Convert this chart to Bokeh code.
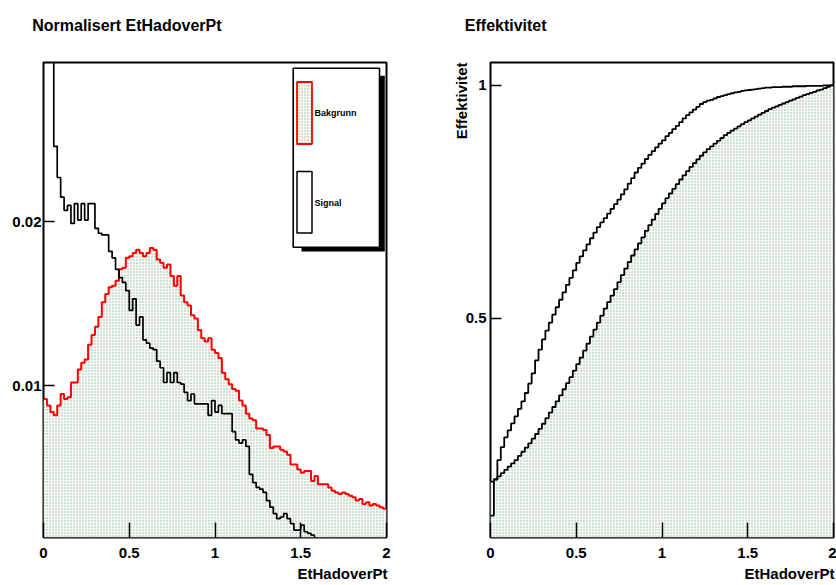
import numpy as np
from bokeh.plotting import figure
from bokeh.layouts import row
from bokeh.models import FixedTicker, Range1d, Title
from bokeh.embed import file_html
from bokeh.resources import INLINE

# ---------------- data ----------------
x_lo, x_hi, n_bins = 0.0, 2.0, 100
x_ticks = [0, 0.5, 1, 1.5, 2]
x_tick_labels = ["0", "0.5", "1", "1.5", "2"]
left_y_ticks = [0.01, 0.02]
left_y_tick_labels = ["0.01", "0.02"]
right_y_ticks = [0.5, 1.0]
right_y_tick_labels = ["0.5", "1"]
legend_names = ["Bakgrunn", "Signal"]
left_title = "Normalisert EtHadoverPt"
right_title = "Effektivitet"
x_title = "EtHadoverPt"
right_y_title = "Effektivitet"

signal_hist = [
    0.077, 0.077, 0.042, 0.0246, 0.0227, 0.0215, 0.0207, 0.0210, 0.0199, 0.0211,
    0.0201, 0.0211, 0.0201, 0.0211, 0.0211, 0.0196, 0.0193, 0.0192, 0.0192, 0.0182,
    0.0178, 0.0171, 0.0166, 0.0163, 0.0158, 0.0146, 0.0153, 0.0137, 0.0142, 0.0128,
    0.0126, 0.0123, 0.0122, 0.0115, 0.0111, 0.0102, 0.0108, 0.0102, 0.0108, 0.0102,
    0.0101, 0.0096, 0.0091, 0.0095, 0.0089, 0.0089, 0.0089, 0.0089, 0.0082, 0.0091,
    0.0084, 0.0088, 0.0083, 0.0083, 0.0083, 0.0072, 0.0067, 0.0065, 0.0067, 0.0063,
    0.0046, 0.0041, 0.0038, 0.0037, 0.0035, 0.0030, 0.0026, 0.0022, 0.0019, 0.0020,
    0.0022, 0.0019, 0.0016, 0.0012, 0.0012, 0.0015, 0.0011, 0.0010, 0.0009, 0.0007,
    0.0006, 0.0006, 0.0005, 0.0005, 0.0004, 0.0004, 0.0003, 0.0003, 0.0003, 0.0002,
    0.0002, 0.0002, 0.0002, 0.0001, 0.0001, 0.0001, 0.0001, 0.0001, 0.0001, 0.0001,
]

background_hist = [
    0.0092, 0.0088, 0.0084, 0.0082, 0.0088, 0.0095, 0.0092, 0.0093, 0.0102, 0.0102,
    0.0110, 0.0114, 0.0116, 0.0125, 0.0131, 0.0136, 0.0142, 0.0151, 0.0156, 0.0160,
    0.0161, 0.0164, 0.0171, 0.0172, 0.0178, 0.0179, 0.0181, 0.0183, 0.0181, 0.0179,
    0.0181, 0.0184, 0.0183, 0.0177, 0.0175, 0.0172, 0.0174, 0.0167, 0.0161, 0.0167,
    0.0155, 0.0151, 0.0149, 0.0143, 0.0141, 0.0134, 0.0129, 0.0127, 0.0129, 0.0122,
    0.0120, 0.0117, 0.0108, 0.0104, 0.0101, 0.0098, 0.0097, 0.0091, 0.0088, 0.0083,
    0.0080, 0.0079, 0.0074, 0.0074, 0.0073, 0.0070, 0.0062, 0.0063, 0.0063, 0.0061,
    0.0060, 0.0058, 0.0052, 0.0052, 0.0049, 0.0047, 0.0048, 0.0048, 0.0042, 0.0045,
    0.0040, 0.0040, 0.0040, 0.0038, 0.0036, 0.0035, 0.0034, 0.0035, 0.0034, 0.0033,
    0.0032, 0.0030, 0.0031, 0.0028, 0.0029, 0.0027, 0.0028, 0.0027, 0.0026, 0.0025,
]

signal_eff = [
    0.077, 0.154, 0.196, 0.224, 0.245, 0.260, 0.275, 0.290, 0.306, 0.322,
    0.340, 0.360, 0.382, 0.410, 0.433, 0.455, 0.474, 0.491, 0.508, 0.524,
    0.540, 0.556, 0.572, 0.587, 0.603, 0.619, 0.633, 0.646, 0.659, 0.672,
    0.684, 0.696, 0.706, 0.715, 0.725, 0.735, 0.745, 0.755, 0.766, 0.777,
    0.789, 0.801, 0.813, 0.823, 0.832, 0.842, 0.851, 0.859, 0.867, 0.875,
    0.882, 0.891, 0.898, 0.906, 0.913, 0.921, 0.929, 0.936, 0.942, 0.948,
    0.954, 0.960, 0.964, 0.967, 0.969, 0.972, 0.975, 0.977, 0.979, 0.981,
    0.983, 0.985, 0.986, 0.988, 0.989, 0.990, 0.991, 0.992, 0.993, 0.994,
    0.995, 0.995, 0.996, 0.996, 0.996, 0.997, 0.997, 0.997, 0.998, 0.998,
    0.998, 0.998, 0.999, 0.999, 0.999, 0.999, 0.999, 1.000, 1.000, 1.000,
]

background_eff = [
    0.150, 0.155, 0.161, 0.168, 0.175, 0.182, 0.189, 0.196, 0.205, 0.214,
    0.223, 0.232, 0.242, 0.252, 0.263, 0.274, 0.286, 0.298, 0.310, 0.322,
    0.335, 0.348, 0.361, 0.374, 0.388, 0.402, 0.416, 0.431, 0.446, 0.461,
    0.476, 0.491, 0.506, 0.521, 0.535, 0.549, 0.563, 0.578, 0.593, 0.607,
    0.621, 0.635, 0.648, 0.661, 0.674, 0.688, 0.700, 0.712, 0.724, 0.735,
    0.747, 0.758, 0.768, 0.778, 0.788, 0.798, 0.807, 0.816, 0.825, 0.833,
    0.841, 0.849, 0.856, 0.863, 0.869, 0.875, 0.881, 0.887, 0.893, 0.898,
    0.903, 0.907, 0.912, 0.917, 0.921, 0.925, 0.929, 0.933, 0.937, 0.941,
    0.945, 0.949, 0.952, 0.955, 0.958, 0.961, 0.964, 0.967, 0.970, 0.973,
    0.976, 0.979, 0.981, 0.984, 0.986, 0.989, 0.991, 0.994, 0.997, 1.000,
]

# ---------------- styling ----------------
FONT = "Liberation Sans"
GREEN = "#7fb088"
left_y_range = (0.00075, 0.02971)
right_y_range = (0.030, 1.049)
FRAME_TOP, FRAME_H, FRAME_W = 62, 475, 343
FIG_H = 585
HAS_STANDOFF = "standoff" in Title.properties()

edges = np.linspace(x_lo, x_hi, n_bins + 1)


def step_xy(vals):
    xs = np.repeat(edges, 2)[1:-1]
    ys = np.repeat(np.asarray(vals, dtype=float), 2)
    return xs, ys


def fill_xy(vals, ybot):
    xs, ys = step_xy(vals)
    return np.concatenate([[xs[0]], xs, [xs[-1]]]), np.concatenate([[ybot], ys, [ybot]])


def text_title(text, align, offset, size, standoff):
    t = Title(text=text, align=align, offset=offset, text_font=FONT,
              text_font_style="bold", text_font_size=size, text_color="black")
    if HAS_STANDOFF:
        t.standoff = standoff
    return t


def make_fig(yr, left_border, right_border, title_text, title_offset):
    width = left_border + FRAME_W + right_border
    p = figure(width=width, height=FIG_H, output_backend="svg", toolbar_location=None,
               x_range=Range1d(x_lo, x_hi), y_range=Range1d(*yr),
               min_border_left=left_border, min_border_right=right_border,
               min_border_top=FRAME_TOP, min_border_bottom=FIG_H - FRAME_TOP - FRAME_H)
    # spacer (closest to frame) then the visible title further out
    p.add_layout(text_title(" ", "left", 0, "16px", 9.5), "above")
    p.add_layout(text_title(title_text, "left", title_offset, "16px", 0), "above")
    # small spacer below the tick labels, then the x-axis title (right aligned)
    p.add_layout(text_title(" ", "right", 0, "16px", -16), "below")
    p.add_layout(text_title(x_title, "right", -1, "15px", -1), "below")
    p.grid.visible = False
    p.outline_line_color = "black"
    p.outline_line_width = 2
    p.background_fill_color = "white"
    p.border_fill_color = "white"
    for ax in (p.xaxis[0], p.yaxis[0]):
        ax.axis_line_color = None
        ax.major_tick_out = 0
        ax.minor_tick_in = 0
        ax.minor_tick_out = 0
        ax.major_tick_line_width = 1.5
        ax.major_tick_line_color = "black"
        ax.major_label_text_font = FONT
        ax.major_label_text_font_style = "bold"
        ax.major_label_text_font_size = "15px"
        ax.major_label_text_color = "black"
    p.xaxis.ticker = FixedTicker(ticks=x_ticks)
    p.xaxis.major_label_overrides = {t: s for t, s in zip(x_ticks, x_tick_labels)}
    p.xaxis.major_tick_in = 15
    p.xaxis.major_label_standoff = 10
    p.yaxis.major_tick_in = 11
    return p


def conv(frame_left, yr):
    def X(px):
        return (px - frame_left) / float(FRAME_W) * (x_hi - x_lo) + x_lo

    def Y(py):
        return yr[1] - (py - FRAME_TOP) / float(FRAME_H) * (yr[1] - yr[0])
    return X, Y


# ---------------- left panel ----------------
pl = make_fig(left_y_range, 43, 40, left_title, -11.3)
pl.yaxis.ticker = FixedTicker(ticks=left_y_ticks)
pl.yaxis.major_label_overrides = {t: s for t, s in zip(left_y_ticks, left_y_tick_labels)}
pl.yaxis.major_label_standoff = 2

fx, fy = fill_xy(background_hist, left_y_range[0])
pl.patch(fx, fy, fill_color="white", line_color=None,
         hatch_pattern="dot", hatch_color=GREEN, hatch_scale=3, hatch_weight=0.6)
sx, sy = step_xy(background_hist)
pl.line(sx, sy, line_color="red", line_width=2)
sx, sy = step_xy(signal_hist)
pl.line(sx, sy, line_color="black", line_width=1.7)

X, Y = conv(43.0, left_y_range)
# legend box with shadow (positions in page pixels)
pl.quad(left=X(301), right=X(384.3), top=Y(75.3), bottom=Y(251), fill_color="black", line_color=None)
pl.quad(left=X(292.7), right=X(379), top=Y(67.7), bottom=Y(246.7), fill_color="white",
        line_color="black", line_width=1.6)
pl.quad(left=X(296.5), right=X(311.5), top=Y(81.5), bottom=Y(143.5), fill_color="white",
        line_color=None, hatch_pattern="dot", hatch_color=GREEN, hatch_scale=3, hatch_weight=0.6)
pl.quad(left=X(296.5), right=X(311.5), top=Y(81.5), bottom=Y(143.5), fill_color=None,
        line_color="red", line_width=1.8)
pl.quad(left=X(296.5), right=X(311.5), top=Y(171), bottom=Y(232.5), fill_color="white",
        line_color="black", line_width=1.5)
pl.text(x=[X(314), X(314)], y=[Y(112), Y(202)], text=legend_names,
        text_font={"value": FONT}, text_font_style="bold", text_font_size="9px",
        text_color="black", text_align="left", text_baseline="middle")

# ---------------- right panel ----------------
pr = make_fig(right_y_range, 64, 3, right_title, -25.7)
pr.yaxis.ticker = FixedTicker(ticks=right_y_ticks)
pr.yaxis.major_label_overrides = {t: s for t, s in zip(right_y_ticks, right_y_tick_labels)}
pr.yaxis.major_label_standoff = 4
pr.add_layout(text_title(right_y_title, "right", 0, "15px", -15), "left")

fx, fy = fill_xy(background_eff, right_y_range[0])
pr.patch(fx, fy, fill_color="white", line_color=None,
         hatch_pattern="dot", hatch_color=GREEN, hatch_scale=3, hatch_weight=0.6)
sx, sy = step_xy(background_eff)
pr.line(sx, sy, line_color="black", line_width=1.8)
sx, sy = step_xy(signal_eff)
pr.line(sx, sy, line_color="black", line_width=1.8)

layout = row(pl, pr, spacing=0)
open("out.html", "w").write(file_html(layout, INLINE))
